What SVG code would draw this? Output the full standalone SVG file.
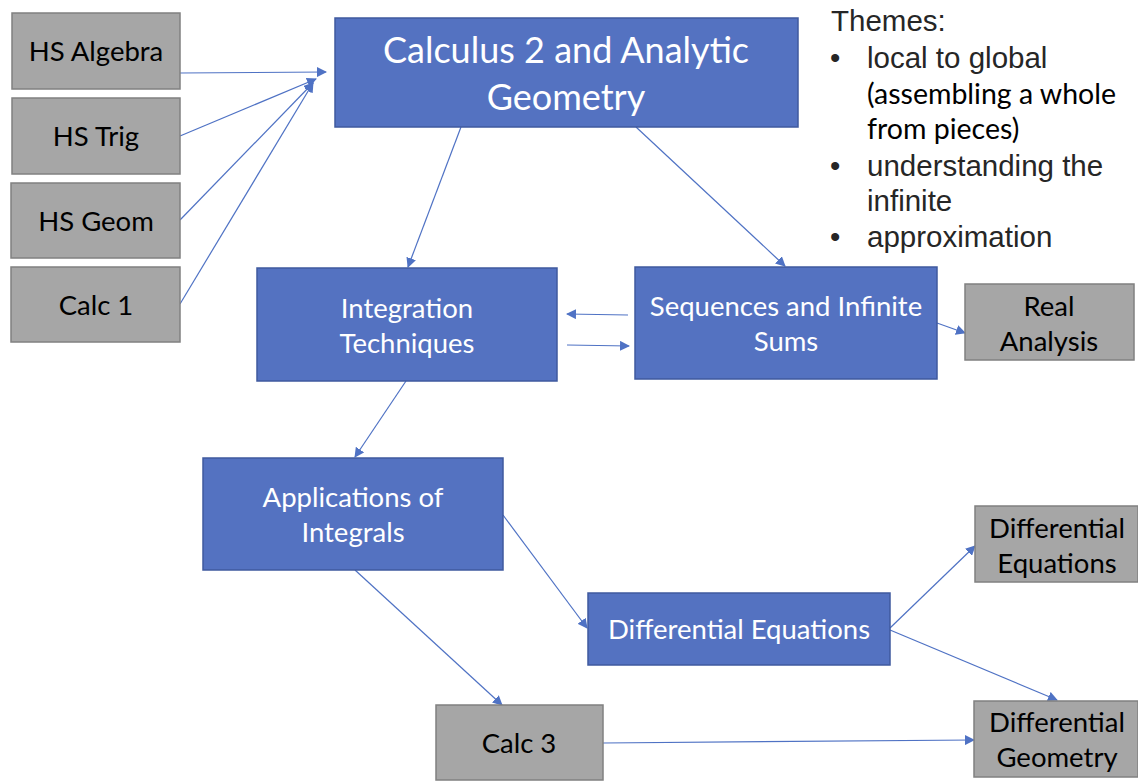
<svg xmlns="http://www.w3.org/2000/svg" width="1138" height="781" viewBox="0 0 1138 781">
<defs>
<marker id="ah" viewBox="0 0 10 10" refX="9" refY="5" markerWidth="10" markerHeight="10" markerUnits="userSpaceOnUse" orient="auto">
<path d="M0,0 L10,5 L0,10 z" fill="#4F72C4"/>
</marker>
<style>
.blue{fill:#5472C1;stroke:#3F5A9E;stroke-width:1.5}
.gray{fill:#A6A6A6;stroke:#808080;stroke-width:1.5}
.wt{fill:#ffffff;font-family:Lato,"Open Sans",sans-serif;font-size:27.5px;text-anchor:middle}
.bt{fill:#000000;font-family:Lato,"Open Sans",sans-serif;font-size:27.5px;text-anchor:middle}
.ar{fill:#262626;font-family:"Liberation Sans",Arial,sans-serif;font-size:29.5px}
.cal{fill:#000000;font-family:Lato,"Open Sans",sans-serif;font-size:28.5px}
.cn{fill:none;stroke:#4F72C4;stroke-width:1.2;marker-end:url(#ah)}
</style>
</defs>
<rect width="1138" height="781" fill="#ffffff"/>
<g id="connectors">
<line class="cn" x1="180" y1="73" x2="326" y2="72"/>
<line class="cn" x1="180" y1="136" x2="316" y2="79"/>
<line class="cn" x1="180" y1="220" x2="313" y2="83"/>
<line class="cn" x1="180" y1="304" x2="313" y2="83"/>
<line class="cn" x1="461" y1="127" x2="408" y2="267"/>
<line class="cn" x1="636" y1="127" x2="785" y2="266"/>
<line class="cn" x1="628" y1="315" x2="567" y2="314"/>
<line class="cn" x1="567" y1="345" x2="629" y2="346"/>
<line class="cn" x1="937" y1="323" x2="965" y2="333"/>
<line class="cn" x1="406" y1="381" x2="355" y2="457"/>
<line class="cn" x1="503" y1="515" x2="587" y2="628"/>
<line class="cn" x1="355" y1="570" x2="502" y2="705"/>
<line class="cn" x1="890" y1="628" x2="975" y2="546"/>
<line class="cn" x1="890" y1="630" x2="1057" y2="700"/>
<line class="cn" x1="603" y1="743" x2="974" y2="740"/>
</g>
<g id="hs-algebra"><rect class="gray" x="12" y="13" width="168" height="76"/><text class="bt" x="96" y="61">HS Algebra</text></g>
<g id="hs-trig"><rect class="gray" x="12" y="98" width="168" height="76"/><text class="bt" x="96" y="146">HS Trig</text></g>
<g id="hs-geom"><rect class="gray" x="11" y="183" width="169" height="75"/><text class="bt" x="96" y="231">HS Geom</text></g>
<g id="calc1"><rect class="gray" x="11" y="267" width="169" height="75"/><text class="bt" x="96" y="315">Calc 1</text></g>
<g id="calc2"><rect class="blue" x="335" y="18" width="463" height="109"/><text class="wt" style="font-size:36px" x="566" y="63">Calculus 2 and Analytic</text><text class="wt" style="font-size:36px" x="566" y="110">Geometry</text></g>
<g id="themes">
<text class="ar" x="831" y="31">Themes:</text>
<text class="ar" x="830" y="68">•</text><text class="ar" x="867" y="68">local to global</text>
<text class="cal" x="867" y="104">(assembling a whole</text>
<text class="cal" x="867" y="139">from pieces)</text>
<text class="ar" x="830" y="176">•</text><text class="ar" x="867" y="176">understanding the</text>
<text class="ar" x="867" y="211">infinite</text>
<text class="ar" x="830" y="247">•</text><text class="ar" x="867" y="247">approximation</text>
</g>
<g id="integration"><rect class="blue" x="257" y="268" width="300" height="113"/><text class="wt" x="407" y="318">Integration</text><text class="wt" x="407" y="353">Techniques</text></g>
<g id="sequences"><rect class="blue" x="635" y="267" width="302" height="112"/><text class="wt" x="786" y="316">Sequences and Infinite</text><text class="wt" x="786" y="351">Sums</text></g>
<g id="real-analysis"><rect class="gray" x="965" y="284" width="169" height="76"/><text class="bt" x="1049" y="316">Real</text><text class="bt" x="1049" y="351">Analysis</text></g>
<g id="applications"><rect class="blue" x="203" y="458" width="300" height="112"/><text class="wt" x="353" y="507">Applications of</text><text class="wt" x="353" y="542">Integrals</text></g>
<g id="diffeq"><rect class="blue" x="588" y="593" width="302" height="72"/><text class="wt" x="739" y="639">Differential Equations</text></g>
<g id="diffeq-gray"><rect class="gray" x="975" y="506" width="163" height="76"/><text class="bt" x="1057" y="538">Differential</text><text class="bt" x="1057" y="573">Equations</text></g>
<g id="diffgeom"><rect class="gray" x="974" y="701" width="164" height="76"/><text class="bt" x="1057" y="732">Differential</text><text class="bt" x="1057" y="767">Geometry</text></g>
<g id="calc3"><rect class="gray" x="436" y="705" width="167" height="75"/><text class="bt" x="519" y="753">Calc 3</text></g>
</svg>
